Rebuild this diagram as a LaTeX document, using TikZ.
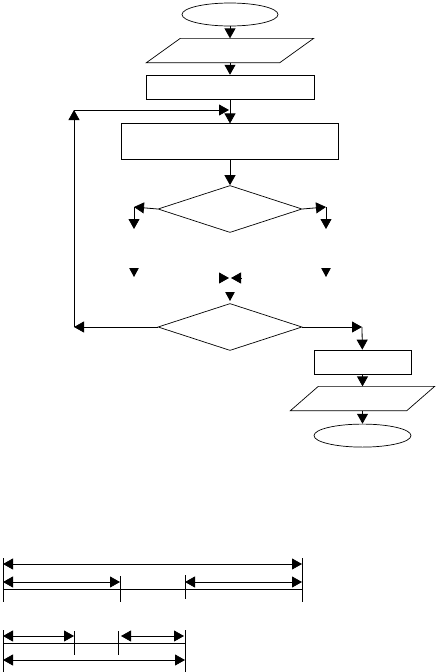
\documentclass[tikz,border=0pt]{standalone}
\usetikzlibrary{positioning,arrows.meta,shapes.geometric}
\tikzset{
  term/.style={draw, line width=0.7pt, ellipse, minimum width=96pt, minimum height=23pt, inner sep=0pt},
  io/.style={rectangle, minimum height=24pt, inner sep=0pt},
  box/.style={draw, line width=0.7pt, rectangle, minimum height=24pt, inner sep=0pt},
  test/.style={draw, line width=0.7pt, diamond, minimum width=144pt, minimum height=47pt, inner sep=0pt},
  edge/.style={line width=0.7pt},
  arr/.style={-{Triangle[length=10pt, width=11pt]}, line width=0.8pt},
  head/.style={-{Triangle[length=9pt, width=9.5pt]}, line width=0.8pt},
  dim/.style={{Triangle[length=10pt, width=11pt]}-{Triangle[length=10pt, width=11pt]}, line width=0.8pt},
  tick/.style={line width=0.8pt},
}

\begin{document}
\begin{tikzpicture}[x=1pt, y=-1pt]
  \useasboundingbox (0,0) rectangle (436,672);
  \node[term] (start) at (230,14.5) {};
  \node[io, minimum width=167pt, below=12pt of start] (in1) {};
  \node[box, minimum width=168pt, below=12pt of in1] (calc1) {};
  \node[box, minimum width=217pt, minimum height=36pt, below=24pt of calc1] (calc2) {};
  \node[test, below=25pt of calc2] (test1) {};
  \node[test] (test2) at (230,327) {};
  \node[box, minimum width=97pt] (calc3) at (362.5,362) {};
  \node[io, minimum width=144pt, below=12pt of calc3] (out1) {};
  \node[term, minimum width=97pt, below=13pt of out1] (stop) {};

  \draw[edge] (in1.south west) -- ([xshift=34pt]in1.north west) -- (in1.north east)
    -- ([xshift=-34pt]in1.south east) -- cycle;
  \draw[edge] (out1.south west) -- ([xshift=28pt]out1.north west) -- (out1.north east)
    -- ([xshift=-28pt]out1.south east) -- cycle;

  \coordinate (loopL) at (74,327);
  \coordinate (loopT) at (74,110);
  \coordinate (loopR) at (229,110);
  \coordinate (brL) at (134,207);
  \coordinate (brLe) at (134,229);
  \coordinate (brR) at (326,207);
  \coordinate (brRe) at (326,229);
  \coordinate (brR2) at (362,327);
  \coordinate (tipLa) at (134,268);
  \coordinate (tipLb) at (134,277);
  \coordinate (tipRa) at (326,268);
  \coordinate (tipRb) at (326,277);
  \coordinate (bowLa) at (219,278);
  \coordinate (bowLb) at (229,278);
  \coordinate (bowRa) at (241,278);
  \coordinate (bowRb) at (231,278);
  \coordinate (tipMa) at (230,292);
  \coordinate (tipMb) at (230,301);

  \draw[arr] (start) -- (in1);
  \draw[arr] (in1) -- (calc1);
  \draw[arr] (calc1) -- (calc2);
  \draw[arr] (calc2) -- (test1);
  \draw[arr] (test1.west) -- (brL);
  \draw[arr] (brL) -- (brLe);
  \draw[arr] (test1.east) -- (brR);
  \draw[arr] (brR) -- (brRe);
  \draw[head] (tipLa) -- (tipLb);
  \draw[head] (tipRa) -- (tipRb);
  \draw[arr] (bowLa) -- (bowLb);
  \draw[arr] (bowRa) -- (bowRb);
  \draw[head] (tipMa) -- (tipMb);
  \draw[arr] (test2.west) -- (loopL);
  \draw[arr] (loopL) -- (loopT);
  \draw[arr] (loopT) -- (loopR);
  \draw[arr] (test2.east) -- (brR2);
  \draw[arr] (brR2) -- (calc3);
  \draw[arr] (calc3) -- (out1);
  \draw[arr] (out1) -- (stop);

  \draw[dim] (3,564) -- (302,564);
  \draw[dim] (3,582) -- (120,582);
  \draw[dim] (185,582) -- (302,582);
  \draw[tick] (3,589) -- (302,589);
  \draw[tick] (3,558) -- (3,602);
  \draw[tick] (302,558) -- (302,602);
  \draw[tick] (120,576) -- (120,602);
  \draw[tick] (185,575) -- (185,599);

  \draw[dim] (3,636) -- (74,636);
  \draw[dim] (121,636) -- (184,636);
  \draw[tick] (3,643) -- (185,643);
  \draw[tick] (3,630) -- (3,672);
  \draw[tick] (185,630) -- (185,672);
  \draw[tick] (74,631) -- (74,655);
  \draw[tick] (118,631) -- (118,655);
  \draw[dim] (3,660) -- (185,660);
\end{tikzpicture}
\end{document}
